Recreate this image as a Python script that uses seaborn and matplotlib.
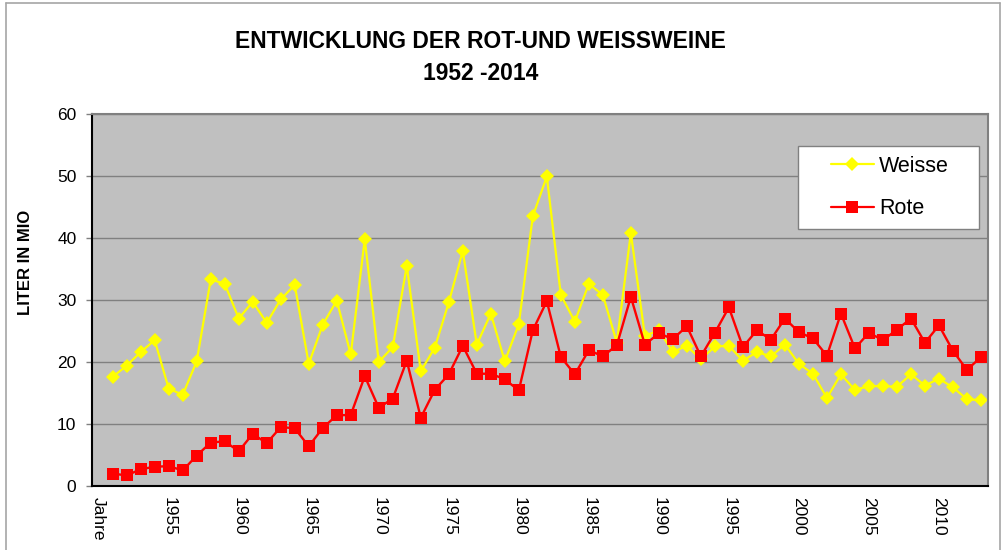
# plot.py: wine consumption chart (red vs. white), Excel-style look.

import numpy as np
import pandas as pd
import seaborn as sns
import matplotlib.pyplot as plt
from matplotlib.lines import Line2D
from matplotlib.patches import Rectangle


# Categories on the x axis (first one is the header cell "Jahre").
years = [str(y) for y in range(1951, 2014)]
categories = ["Jahre"] + years

# Liter in Mio.
weisse = [17.6, 19.4, 21.6, 23.5, 15.7, 14.7, 20.1, 33.3, 32.6, 27.0,
          29.7, 26.3, 30.1, 32.4, 19.7, 26.0, 29.9, 21.2, 39.8, 20.0,
          22.4, 35.5, 18.5, 22.3, 29.6, 37.9, 22.8, 27.8, 20.1, 26.1,
          43.5, 49.9, 30.8, 26.5, 32.6, 30.8, 23.1, 40.8, 24.2, 25.1,
          21.6, 22.6, 20.4, 22.5, 22.6, 20.2, 21.6, 20.9, 22.8, 19.7,
          18.1, 14.2, 18.0, 15.5, 16.1, 16.1, 16.0, 18.0, 16.2, 17.3,
          15.9, 14.0, 13.8]
rote = [2.0, 1.7, 2.7, 3.1, 3.2, 2.5, 4.9, 7.0, 7.2, 5.6,
        8.4, 6.9, 9.5, 9.3, 6.4, 9.35, 11.4, 11.45, 17.7, 12.6,
        14.1, 20.2, 11.0, 15.5, 18.0, 22.6, 18.1, 18.1, 17.2, 15.4,
        25.1, 29.8, 20.8, 18.0, 21.9, 20.9, 22.7, 30.5, 22.8, 24.6,
        23.7, 25.75, 20.9, 24.7, 28.8, 22.4, 25.1, 23.6, 27.0, 24.8,
        23.8, 21.0, 27.8, 22.2, 24.7, 23.5, 25.2, 27.0, 23.1, 25.9,
        21.8, 18.7, 20.8]

y_ticks = [0, 10, 20, 30, 40, 50, 60]

sns.set_theme(style="white")
plt.rcParams['font.family'] = ['Liberation Sans', 'DejaVu Sans']
plt.rcParams['text.color'] = 'black'
plt.rcParams['axes.labelcolor'] = 'black'
plt.rcParams['xtick.color'] = 'black'
plt.rcParams['ytick.color'] = 'black'

df = pd.DataFrame({
    'pos': np.arange(1, len(categories)),
    'year': years,
    'Weisse': weisse,
    'Rote': rote,
})

fig = plt.figure(figsize=(10.03, 5.5), dpi=100)
ax = fig.add_axes([0.0914, 0.1164, 0.8936, 0.6766])
ax.set_facecolor('#c0c0c0')

# Lines
sns.lineplot(data=df, x='pos', y='Weisse', ax=ax, color='#ffff00', lw=1.6,
             marker='D', markersize=7.5, markeredgewidth=0, label='Weisse', legend=False)
sns.lineplot(data=df, x='pos', y='Rote', ax=ax, color='#ff0000', lw=1.7,
             marker='s', markersize=8.5, markeredgewidth=0, label='Rote', legend=False)

# Axes
ax.set_xlim(-0.5, len(categories) - 0.5)
ax.set_ylim(0, 60)
ax.set_yticks(y_ticks)
ax.set_yticklabels([str(v) for v in y_ticks], fontsize=12.5)
ax.yaxis.grid(True, color='#808080', lw=1)
ax.xaxis.grid(False)
ax.set_axisbelow(True)

major = np.arange(0, len(categories), 5)
ax.set_xticks(major)
ax.set_xticklabels([categories[i] for i in major], rotation=-90, fontsize=12.5, va='top')
ax.set_xticks(np.arange(-0.5, len(categories)), minor=True)
ax.tick_params(axis='x', which='major', length=0, pad=8, labelcolor='black')
ax.tick_params(axis='x', which='minor', length=4, width=1, color='#808080', direction='out')
ax.tick_params(axis='y', length=4, width=1, color='#808080', direction='out', pad=7,
               left=True, labelcolor='black')

ax.set_xlabel('')
ax.set_ylabel('LITER IN MIO', fontsize=12, fontweight='bold', color='black')
ax.yaxis.set_label_coords(-0.066, 0.6)

for side in ['left', 'bottom']:
    ax.spines[side].set_color('black')
    ax.spines[side].set_linewidth(1.5)
for side in ['top', 'right']:
    ax.spines[side].set_color('#808080')
    ax.spines[side].set_linewidth(1.5)

# Legend box (white, gray frame) with the legend inside
ax.add_patch(Rectangle((0.788, 0.691), 0.202, 0.223, transform=ax.transAxes,
                       facecolor='white', edgecolor='#808080', lw=1, zorder=4))
handles = [
    Line2D([], [], color='#ffff00', lw=1.6, marker='D', markersize=7, markeredgewidth=0),
    Line2D([], [], color='#ff0000', lw=1.6, marker='s', markersize=8, markeredgewidth=0),
]
leg = ax.legend(handles, ['Weisse', 'Rote'], loc='upper left', bbox_to_anchor=(0.8245, 0.887),
                frameon=False, fontsize=15.5, borderpad=0, borderaxespad=0,
                handlelength=2.0, handletextpad=0.25, labelspacing=1.0)
leg.set_zorder(5)

# Title
fig.text(0.479, 1 - 42 / 550, 'ENTWICKLUNG DER ROT-UND WEISSWEINE', ha='center', va='center',
         fontsize=16.5, fontweight='bold', color='black')
fig.text(0.479, 1 - 73 / 550, '1952 -2014', ha='center', va='center',
         fontsize=16.5, fontweight='bold', color='black')

# Outer chart frame
for xs, ys in [([6 / 1003, 6 / 1003], [0, 1 - 3 / 550]),
               ([6 / 1003, 1000 / 1003], [1 - 3 / 550, 1 - 3 / 550]),
               ([1000 / 1003, 1000 / 1003], [0, 1 - 3 / 550])]:
    fig.add_artist(Line2D(xs, ys, transform=fig.transFigure, color='#a6a6a6', lw=1.2))

plt.savefig('out.png', dpi=100)
